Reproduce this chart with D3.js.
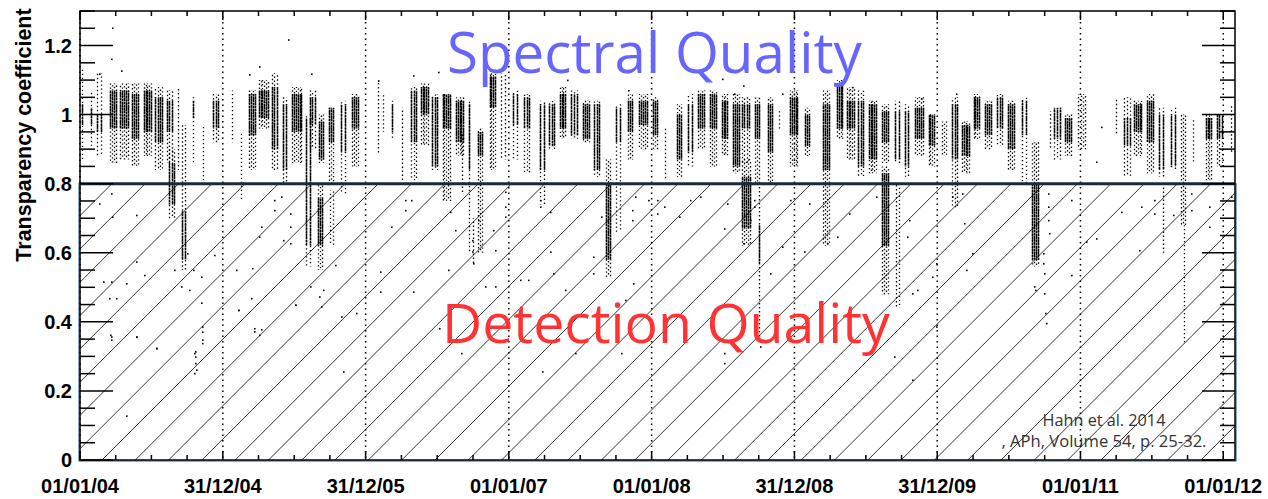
<!DOCTYPE html>
<html>
<head>
<meta charset="utf-8">
<script src="https://cdn.jsdelivr.net/npm/d3@7"></script>
<style>
  body { margin: 0; background: #fff; }
</style>
</head>
<body>
<div id="chart"></div>
<script>
// nights grouped in bands, days counted from 01/01/04
// [firstDay, lastDay, tailLow, coreLow, coreHigh, tailHigh]
const nightBands = [
  [3,8,0.87,0.97,1.03,1.13],[27,31,0.91,0.97,1.02,1.07],[46,56,0.88,0.95,1.0,1.12],
  [78,94,0.86,0.96,1.07,1.09],[104,124,0.87,0.96,1.07,1.09],[134,149,0.85,0.93,1.06,1.09],
  [164,183,0.88,0.95,1.07,1.09],[194,212,0.84,0.92,1.05,1.08],[224,236,0.86,0.95,1.04,1.07],
  [230,242,0.70,0.74,0.86,0.90],[250,252,0.84,null,null,1.08],[262,269,0.55,0.58,0.72,0.97],
  [286,292,0.86,0.99,1.04,1.05],[313,317,0.81,null,null,0.97],[342,354,0.92,0.96,1.04,1.06],
  [389,393,0.92,null,null,1.07],[410,414,0.75,null,null,0.95],[432,448,0.84,0.94,1.06,1.07],
  [458,482,0.96,0.99,1.07,1.10],[492,504,0.84,0.90,1.08,1.12],[519,529,0.80,0.84,1.03,1.05],
  [544,567,0.86,0.95,1.06,1.08],[579,589,0.56,0.62,0.99,1.0],[590,601,0.90,0.97,1.05,1.07],
  [612,623,0.86,0.87,0.98,1.0],[609,620,0.55,0.62,0.76,0.80],[638,649,0.80,0.92,1.02,1.02],
  [641,648,0.62,null,null,0.78],[668,678,0.77,0.89,1.03,1.04],[697,712,0.85,0.96,1.05,1.06],
  [762,764,0.89,null,null,1.10],[774,776,0.95,null,null,1.06],[796,799,0.93,0.95,1.03,1.04],
  [821,827,0.81,null,null,1.02],[847,861,0.81,0.92,1.07,1.08],[872,891,0.91,1.0,1.08,1.09],
  [902,913,0.84,0.85,1.05,1.06],[928,947,0.75,0.96,1.06,1.06],[962,981,0.88,0.92,1.04,1.05],
  [976,979,0.77,null,null,0.95],[993,999,0.60,0.84,1.03,1.04],[1003,1008,0.57,null,null,0.70],
  [1018,1029,0.60,0.88,0.95,0.96],[1048,1063,0.84,1.02,1.11,1.13],[1078,1088,0.87,null,null,1.12],
  [1108,1118,0.87,0.97,1.06,1.07],[1137,1148,0.83,0.96,1.05,1.06],[1176,1186,0.74,0.84,1.03,1.04],
  [1201,1212,0.90,0.91,1.03,1.04],[1227,1242,0.93,0.96,1.06,1.08],[1257,1271,0.93,0.94,1.06,1.07],
  [1286,1301,0.92,0.93,1.03,1.04],[1316,1327,0.82,0.84,1.03,1.04],[1346,1357,0.53,0.58,0.80,0.87],
  [1372,1382,0.66,0.92,1.02,1.03],[1401,1412,0.87,0.95,1.04,1.06],[1431,1450,0.90,0.97,1.04,1.06],
  [1466,1477,0.90,0.94,1.04,1.05],[1496,1498,0.81,null,null,0.96],[1526,1537,0.82,0.87,1.0,1.03],
  [1556,1566,0.85,0.89,1.03,1.06],[1581,1596,0.90,0.96,1.06,1.07],[1611,1626,0.85,0.96,1.06,1.07],
  [1641,1656,0.88,0.93,1.04,1.06],[1671,1686,0.83,0.85,1.03,1.06],[1693,1711,0.86,0.96,1.03,1.05],
  [1693,1714,0.62,0.67,0.82,0.87],[1726,1737,0.80,0.93,1.03,1.05],[1733,1738,0.35,0.57,0.68,0.80],
  [1760,1771,0.80,0.89,1.03,1.05],[1786,1788,0.96,null,null,1.01],[1816,1835,0.85,0.94,1.05,1.07],
  [1854,1865,0.88,0.91,1.0,1.02],[1901,1916,0.62,0.84,1.03,1.07],[1935,1950,0.93,0.96,1.09,1.10],
  [1961,1980,0.87,0.96,1.04,1.08],[1991,2002,0.82,0.85,1.04,1.07],[2017,2036,0.83,0.87,1.03,1.04],
  [2051,2066,0.86,0.92,1.01,1.03],[2051,2066,0.48,0.62,0.83,0.85],[2085,2095,0.86,0.87,1.01,1.04],
  [2086,2094,0.44,null,null,0.80],[2110,2117,0.82,0.85,1.01,1.03],[2136,2155,0.88,0.93,1.02,1.05],
  [2170,2185,0.85,0.91,1.0,1.0],[2204,2215,0.88,null,null,0.98],[2230,2244,0.73,0.87,1.03,1.05],
  [2255,2274,0.83,0.88,0.97,0.98],[2285,2300,0.93,0.96,1.05,1.06],[2315,2330,0.90,0.94,1.03,1.04],
  [2345,2359,0.91,0.96,1.05,1.06],[2374,2389,0.84,0.90,1.03,1.04],[2409,2419,0.80,0.94,1.04,1.05],
  [2434,2449,0.56,0.58,0.80,0.92],[2478,2484,0.90,null,null,1.01],[2491,2505,0.87,0.93,1.02,1.02],
  [2520,2535,0.88,0.92,0.99,1.0],[2553,2570,0.90,null,null,1.06],[2648,2650,0.94,null,null,1.05],
  [2670,2684,0.82,0.91,0.99,1.05],[2695,2714,0.88,0.95,1.03,1.04],[2729,2744,0.83,0.92,1.04,1.06],
  [2759,2769,0.82,0.84,1.0,1.02],[2766,2770,0.60,null,null,0.80],[2789,2799,0.84,0.85,1.0,1.02],
  [2814,2825,0.68,null,null,1.0],[2822,2826,0.34,null,null,0.68],[2844,2846,0.86,null,null,0.99],
  [2878,2893,0.81,0.93,0.99,1.0],[2908,2919,0.85,0.93,1.0,1.0],[2942,2944,0.89,null,null,1.03]
];

// single runs away from the bands: [day, transparency]
const looseRuns = [
  [50,0.741],[80,0.770],[84,0.703],[59,0.515],[80,0.515],[76,0.467],[93,0.467],[144,0.708],
  [144,0.573],[119,0.510],[80,0.356],[144,0.356],[195,0.322],[165,0.534],[276,0.597],[289,0.549],
  [293,0.308],[295,0.279],[293,0.25],[310,0.529],[312,0.385],[314,0.337],[344,0.592],[400,0.549],
  [404,0.433],[438,0.467],[442,0.554],[459,0.645],[464,0.674],[447,0.380],[459,0.361],[242,0.549],
  [259,0.501],[280,0.491],[106,1.126],[459,1.138],[434,1.115],[50,1.117],[84,1.25],[81,1.16],
  [532,1.216],[77,0.361],[81,0.347],[145,0.355],[196,0.323],[294,0.313],[294,0.298],[298,0.26],
  [314,0.37],[314,0.347],[311,0.454],[118,0.127],[405,0.433],[447,0.371],[464,0.377],[550,0.448],
  [498,0.751],[498,0.722],[516,0.761],[537,0.712],[537,0.674],[520,0.635],[537,0.626],[550,0.448],
  [588,0.501],[613,0.472],[618,0.443],[622,0.491],[652,0.563],[669,0.414],[673,0.255],[707,0.424],
  [767,0.544],[767,0.486],[797,0.674],[831,0.751],[831,0.722],[848,0.751],[852,0.486],[941,0.549],
  [946,0.717],[959,0.664],[920,0.38],[976,0.308],[592,1.117],[763,1.097],[852,1.112],[916,1.122],
  [1002,0.635],[1004,0.602],[1006,0.568],[1019,0.693],[1036,0.501],[1057,0.664],[1062,0.606],
  [1062,0.501],[1087,0.775],[1087,0.732],[1087,0.703],[1126,0.52],[1147,0.52],[1177,0.751],
  [1177,0.732],[1202,0.717],[1202,0.602],[1211,0.539],[1241,0.491],[1266,0.308],[1313,0.587],
  [1313,0.539],[1334,0.703],[1385,0.308],[1394,0.462],[1411,0.722],[1411,0.693],[1415,0.51],
  [1420,0.761],[1454,0.751],[1181,0.255],[1245,1.099],[1402,1.069],
  [1476,0.751],[1476,0.712],[1493,0.732],[1531,0.703],[1561,0.751],[1587,0.761],[1646,0.669],
  [1655,0.741],[1697,0.626],[1714,0.693],[1723,0.751],[1723,0.732],[1766,0.539],[1795,0.616],
  [1817,0.751],[1851,0.602],[1864,0.741],[1910,0.626],[1936,0.645],[1646,0.308],[1646,0.279],
  [1740,0.327],[1642,1.102],[1697,1.083],[1672,1.059],[1795,1.059],
  [1967,0.712],[2035,0.761],[2120,0.693],[2116,0.645],[2128,0.481],[2141,0.491],[2180,0.529],
  [2188,0.568],[2231,0.761],[2256,0.770],[2260,0.684],[2282,0.597],[2265,0.549],[2082,0.298],
  [2128,0.231],[2439,0.501],[2441,0.491],[2188,0.385],[1975,1.078],[2239,1.059],[2150,1.045],
  [2475,0.77],[2475,0.732],[2476,0.693],[2479,0.655],[2462,0.597],[2462,0.568],[2464,0.539],
  [2466,0.481],[2468,0.424],[2470,0.395],[2534,0.751],[2534,0.534],[2573,0.631],[2598,0.640],
  [2662,0.717],[2709,0.606],[2713,0.732],[2747,0.751],[2747,0.712],[2794,0.708],[2841,0.77],
  [2841,0.722],[2888,0.732],[2888,0.674],[2943,0.761],[2611,0.963],[2598,0.862]
];

const xTickDates = ["2004-01-01", "2004-12-31", "2005-12-31", "2007-01-01", "2008-01-01",
                    "2008-12-31", "2009-12-31", "2011-01-01", "2012-01-01"];
const xTickLabels = ["01/01/04", "31/12/04", "31/12/05", "01/01/07", "01/01/08",
                     "31/12/08", "31/12/09", "01/01/11", "01/01/12"];
const yTickValues = [0, 0.2, 0.4, 0.6, 0.8, 1, 1.2];
const yTickLabels = ["0", "0.2", "0.4", "0.6", "0.8", "1", "1.2"];
const qualityCut = 0.8;

let svgWidth = 1268;
let svgHeight = 499;
let margin = { top: 11, right: 33, bottom: 39, left: 80 };
let width = svgWidth - margin.left - margin.right;
let height = svgHeight - margin.top - margin.bottom;

let svg = d3.select("#chart").append("svg")
    .attr("width", svgWidth)
    .attr("height", svgHeight);

let plot = svg.append("g")
    .attr("transform", `translate(${margin.left}, ${margin.top})`);

let parse = d3.utcParse("%Y-%m-%d");
let start = parse("2004-01-01");
let dayToDate = d => new Date(start.getTime() + d * 864e5);

let x = d3.scaleUtc()
    .domain([start, parse("2012-01-31")])
    .range([0, width]);
let y = d3.scaleLinear()
    .domain([0, 1.3])
    .range([height, 0]);

let cutY = y(qualityCut);

// hatched "detection quality" area
plot.append("clipPath").attr("id", "hatchClip")
  .append("rect")
    .attr("x", 0).attr("y", cutY)
    .attr("width", width).attr("height", height - cutY);

let hatchStep = 33.3;
let hatch = plot.append("g").attr("clip-path", "url(#hatchClip)");
hatch.selectAll("line")
    .data(d3.range(4.8 - hatchStep * 10, width + height, hatchStep))
    .join("line")
    .attr("x1", c => c - height).attr("y1", height)
    .attr("x2", c => c - cutY).attr("y2", cutY)
    .attr("stroke", "#000")
    .attr("stroke-width", 0.8);

// dotted grid at the labelled dates
plot.append("g").selectAll("line")
    .data(xTickDates)
    .join("line")
    .attr("x1", d => x(parse(d))).attr("x2", d => x(parse(d)))
    .attr("y1", 0).attr("y2", height)
    .attr("stroke", "#000")
    .attr("stroke-width", 1.5)
    .attr("stroke-dasharray", "1.5,4");

// each band becomes a few thin dotted strands: sparse over the tail, dense over the core
let strands = [];
nightBands.forEach((b, i) => {
    let x0 = x(dayToDate(b[0])), x1 = x(dayToDate(b[1]));
    let n = Math.max(1, Math.round((x1 - x0) / 1.6));
    for (let k = 0; k < n; k++) {
        let xx = n === 1 ? (x0 + x1) / 2 : x0 + (x1 - x0) * k / (n - 1);
        xx = Math.floor(xx) + 0.5;
        let off = (i * 1.7 + k * 2.3) % 5;
        strands.push({ x: xx, lo: b[2], hi: b[5], w: 1.3, dash: "1.4,2.6", off: off });
        if (b[3] !== null) {
            strands.push({ x: xx, lo: b[3], hi: b[4], w: 1.5, dash: "2.6,0.5", off: off });
        }
    }
});

plot.append("g").selectAll("line")
    .data(strands)
    .join("line")
    .attr("x1", d => d.x).attr("x2", d => d.x)
    .attr("y1", d => y(d.hi)).attr("y2", d => y(d.lo))
    .attr("stroke", "#000")
    .attr("stroke-width", d => d.w)
    .attr("stroke-dasharray", d => d.dash)
    .attr("stroke-dashoffset", d => d.off);

// single points
plot.append("g").selectAll("rect")
    .data(looseRuns)
    .join("rect")
    .attr("x", d => Math.floor(x(dayToDate(d[0]))))
    .attr("y", d => y(d[1]) - 0.8)
    .attr("width", 1.6).attr("height", 1.6)
    .attr("fill", "#000");

// outline of the hatched box and the 0.8 cut
plot.append("rect")
    .attr("x", -1).attr("y", cutY)
    .attr("width", width + 2).attr("height", height - cutY + 1)
    .attr("fill", "none")
    .attr("stroke", "#3f6fb0")
    .attr("stroke-width", 1.2);

plot.append("line")
    .attr("x1", 0).attr("x2", width)
    .attr("y1", cutY).attr("y2", cutY)
    .attr("stroke", "#1b2a3a")
    .attr("stroke-width", 3);

// frame
plot.append("rect")
    .attr("width", width).attr("height", height)
    .attr("fill", "none")
    .attr("stroke", "#000")
    .attr("stroke-width", 1.5);

// ticks, ROOT style: on all four sides pointing inward
let xMajor = xTickDates.map(d => parse(d));
let xMinor = [];
for (let i = 0; i < xMajor.length - 1; i++) {
    let a = xMajor[i].getTime(), b = xMajor[i + 1].getTime();
    for (let k = 1; k < 4; k++) xMinor.push(new Date(a + (b - a) * k / 4));
}
let yMinor = d3.range(0, 1.3001, 0.05).filter(v => Math.abs(v * 5 - Math.round(v * 5)) > 1e-6);

let ticks = plot.append("g").attr("stroke", "#000").attr("stroke-width", 1.5);
[[xMajor, 9], [xMinor, 5]].forEach(([arr, len]) => {
    ticks.append("g").selectAll("line").data(arr).join("line")
        .attr("x1", d => x(d)).attr("x2", d => x(d))
        .attr("y1", height).attr("y2", height - len);
    ticks.append("g").selectAll("line").data(arr).join("line")
        .attr("x1", d => x(d)).attr("x2", d => x(d))
        .attr("y1", 0).attr("y2", len);
});
[[yTickValues, 33], [yMinor, 15]].forEach(([arr, len]) => {
    ticks.append("g").selectAll("line").data(arr).join("line")
        .attr("x1", 0).attr("x2", len)
        .attr("y1", d => y(d)).attr("y2", d => y(d));
    ticks.append("g").selectAll("line").data(arr).join("line")
        .attr("x1", width).attr("x2", width - len)
        .attr("y1", d => y(d)).attr("y2", d => y(d));
});

// tick labels
plot.append("g").selectAll("text")
    .data(yTickValues)
    .join("text")
    .attr("x", -8)
    .attr("y", d => y(d))
    .attr("dy", "0.36em")
    .attr("text-anchor", "end")
    .style("font", "bold 20px 'Liberation Sans', Arial, sans-serif")
    .text((d, i) => yTickLabels[i]);

plot.append("g").selectAll("text")
    .data(xMajor)
    .join("text")
    .attr("x", d => x(d))
    .attr("y", height + 33)
    .attr("text-anchor", "middle")
    .style("font", "bold 20px 'Liberation Sans', Arial, sans-serif")
    .text((d, i) => xTickLabels[i]);

svg.append("text")
    .attr("transform", "translate(31, 135) rotate(-90)")
    .attr("text-anchor", "middle")
    .style("font", "bold 21.5px 'Liberation Sans', Arial, sans-serif")
    .text("Transparency coefficient");

// region names
function fitText(sel, targetWidth) {
    let size = parseFloat(sel.style("font-size"));
    let w = sel.node().getComputedTextLength();
    sel.style("font-size", (size * targetWidth / w) + "px");
}

let spectral = svg.append("text")
    .attr("x", 447).attr("y", 73)
    .style("font-family", "'Open Sans', sans-serif")
    .style("font-size", "56px")
    .attr("fill", "#6666ff")
    .text("Spectral Quality");
fitText(spectral, 415);

let detection = svg.append("text")
    .attr("x", 442).attr("y", 343)
    .style("font-family", "'Open Sans', sans-serif")
    .style("font-size", "60px")
    .attr("fill", "#ff3333")
    .text("Detection Quality");
fitText(detection, 448);

// reference
let refLines = [", APh, Volume 54, p. 25-32.", "Hahn et al. 2014"];
let ref1 = svg.append("text")
    .attr("x", 1104).attr("y", 426)
    .attr("text-anchor", "middle")
    .style("font", "16px 'Open Sans', sans-serif")
    .attr("fill", "#333")
    .text(refLines[1]);
fitText(ref1, 123);
let ref2 = svg.append("text")
    .attr("x", 1104).attr("y", 447)
    .attr("text-anchor", "middle")
    .style("font", "16px 'Open Sans', sans-serif")
    .attr("fill", "#333")
    .text(refLines[0]);
fitText(ref2, 205);
</script>
</body>
</html>
